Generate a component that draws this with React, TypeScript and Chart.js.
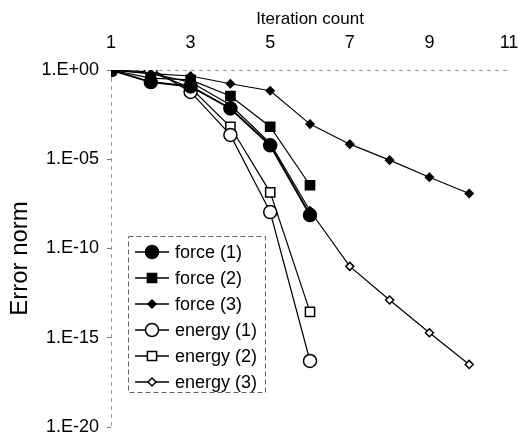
import { useEffect, useRef } from 'react';
import { Chart, registerables } from 'chart.js';

Chart.register(...registerables);

// ---- data ----
const iterShort = [1, 2, 3, 4, 5, 6];
const iterLong = [1, 2, 3, 4, 5, 6, 7, 8, 9, 10];
const force1 = [1, 2.1e-1, 1.2e-1, 7.0e-3, 6.0e-5, 7.5e-9];
const force2 = [1, 3.5e-1, 2.8e-1, 3.5e-2, 6.6e-4, 3.5e-7];
const force3 = [1, 6.3e-1, 4.6e-1, 1.7e-1, 6.9e-2, 9.3e-4, 7.0e-5, 8.9e-6, 9.8e-7, 1.2e-7];
const energy1 = [1, 1.2, 5.9e-2, 2.3e-4, 1.1e-8, 5.0e-17];
const energy2 = [1, 7.9e-1, 1.0e-1, 6.6e-4, 1.4e-7, 2.8e-14];
const energy3 = [1, 6.3e-1, 2.1e-1, 1.1e-2, 7.9e-5, 1.3e-8, 1.0e-11, 1.3e-13, 1.9e-15, 3.2e-17];
const seriesLabels = ['force (1)', 'force (2)', 'force (3)', 'energy (1)', 'energy (2)', 'energy (3)'];
const xTickValues = [1, 3, 5, 7, 9, 11];
const yTickValues = [1, 1e-5, 1e-10, 1e-15, 1e-20];
const xTitle = 'Iteration count';
const yTitle = 'Error norm';

const FONT = '"Liberation Sans", Arial, sans-serif';

function pts(xs: number[], ys: number[]) {
  return ys.map((y, i) => ({ x: xs[i], y }));
}

function fmtExp(v: number) {
  const e = Math.round(Math.log10(v));
  const s = e >= 0 ? '+' : '-';
  const a = Math.abs(e);
  return '1.E' + s + (a < 10 ? '0' + a : String(a));
}

function drawMarker(ctx: CanvasRenderingContext2D, style: string, x: number, y: number, r: number, fill: string) {
  ctx.beginPath();
  if (style === 'circle') {
    ctx.arc(x, y, r, 0, Math.PI * 2);
  } else if (style === 'rect') {
    const s = Math.SQRT1_2 * r;
    ctx.rect(x - s, y - s, 2 * s, 2 * s);
  } else {
    ctx.moveTo(x, y - r);
    ctx.lineTo(x + r, y);
    ctx.lineTo(x, y + r);
    ctx.lineTo(x - r, y);
    ctx.closePath();
  }
  ctx.fillStyle = fill;
  ctx.fill();
  ctx.lineWidth = 1.5;
  ctx.strokeStyle = '#000';
  ctx.stroke();
}

const axesAndTitle = {
  id: 'axesAndTitle',
  beforeDatasetsDraw(chart: any) {
    const ctx: CanvasRenderingContext2D = chart.ctx;
    const a = chart.chartArea;
    ctx.save();
    ctx.strokeStyle = '#9a9a9a';
    ctx.lineWidth = 1;
    ctx.setLineDash([4, 4]);
    ctx.beginPath();
    ctx.moveTo(a.left, a.top + 0.5);
    ctx.lineTo(a.right, a.top + 0.5);
    ctx.moveTo(a.left + 0.5, a.top);
    ctx.lineTo(a.left + 0.5, a.bottom);
    ctx.stroke();
    ctx.setLineDash([]);
    // y-axis title
    ctx.translate(20, (a.top + a.bottom) / 2 + 10);
    ctx.rotate(-Math.PI / 2);
    ctx.fillStyle = '#000';
    ctx.font = '24px ' + FONT;
    ctx.textAlign = 'center';
    ctx.textBaseline = 'middle';
    ctx.fillText(yTitle, 0, 0);
    ctx.restore();
  },
};

const boxLegend = {
  id: 'boxLegend',
  afterDraw(chart: any) {
    const ctx: CanvasRenderingContext2D = chart.ctx;
    ctx.save();
    ctx.fillStyle = '#fff';
    ctx.fillRect(128.5, 236.5, 137, 156);
    ctx.setLineDash([5, 3]);
    ctx.strokeStyle = '#666';
    ctx.lineWidth = 1;
    ctx.strokeRect(128.5, 236.5, 137, 156);
    ctx.setLineDash([]);
    chart.data.datasets.forEach((ds: any, i: number) => {
      const y = 252 + i * 26;
      ctx.strokeStyle = '#000';
      ctx.lineWidth = 1.5;
      ctx.beginPath();
      ctx.moveTo(135, y);
      ctx.lineTo(169, y);
      ctx.stroke();
      drawMarker(ctx, ds.pointStyle, 152, y, ds.pointRadius, ds.pointBackgroundColor);
      ctx.fillStyle = '#000';
      ctx.font = '18px ' + FONT;
      ctx.textBaseline = 'middle';
      ctx.textAlign = 'left';
      ctx.fillText(ds.label, 175, y + 1);
    });
    ctx.restore();
  },
};

export default function App() {
  const ref = useRef<HTMLCanvasElement>(null);

  useEffect(() => {
    document.body.style.margin = '0';
    const canvas = ref.current;
    if (!canvas) return;
    const mk = (label: string, xs: number[], ys: number[], style: string, r: number, filled: boolean, bw: number) => ({
      label,
      data: pts(xs, ys),
      borderColor: '#000',
      borderWidth: bw,
      pointStyle: style,
      pointRadius: r,
      pointHoverRadius: r,
      pointBackgroundColor: filled ? '#000' : '#fff',
      pointBorderColor: '#000',
      pointBorderWidth: 1.5,
      fill: false,
      tension: 0,
    });
    const chart = new Chart(canvas, {
      type: 'line',
      data: {
        datasets: [
          mk(seriesLabels[0], iterShort, force1, 'circle', 6.5, true, 2),
          mk(seriesLabels[1], iterShort, force2, 'rect', 6.5, true, 1.2),
          mk(seriesLabels[2], iterLong, force3, 'rectRot', 4, true, 1.2),
          mk(seriesLabels[3], iterShort, energy1, 'circle', 6.5, false, 1.2),
          mk(seriesLabels[4], iterShort, energy2, 'rect', 6.5, false, 1.2),
          mk(seriesLabels[5], iterLong, energy3, 'rectRot', 4, false, 1.2),
        ] as any,
      },
      options: {
        animation: false,
        responsive: false,
        layout: { padding: { left: 0, top: 0, right: 11, bottom: 14 } },
        plugins: { legend: { display: false }, tooltip: { enabled: false } },
        scales: {
          x: {
            type: 'linear',
            position: 'top',
            min: 1,
            max: 11,
            afterBuildTicks: (s: any) => {
              s.ticks = xTickValues.map((v) => ({ value: v }));
            },
            afterFit: (s: any) => {
              s.height = 70;
              s.paddingLeft = 0;
              s.paddingRight = 0;
            },
            grid: { display: false, drawOnChartArea: false, drawTicks: false },
            border: { display: false },
            ticks: { font: { size: 18, family: FONT }, color: '#000', padding: 16, maxRotation: 0 },
            title: {
              display: true,
              text: xTitle,
              font: { size: 17, family: FONT },
              color: '#000',
              padding: { top: 9, bottom: 0 },
            },
          },
          y: {
            type: 'logarithmic',
            min: 1e-20,
            max: 1,
            afterBuildTicks: (s: any) => {
              s.ticks = yTickValues.map((v) => ({ value: v }));
            },
            afterFit: (s: any) => {
              s.width = 111;
              s.paddingTop = 0;
              s.paddingBottom = 0;
            },
            grid: { display: true, drawOnChartArea: false, drawTicks: true, tickLength: 4, color: '#777' },
            border: { display: false },
            ticks: {
              font: { size: 18, family: FONT },
              color: '#000',
              padding: 8,
              callback: (v: any) => fmtExp(Number(v)),
            },
            title: { display: false },
          },
        },
      } as any,
      plugins: [axesAndTitle, boxLegend],
    });
    return () => chart.destroy();
  }, []);

  return <canvas ref={ref} width={520} height={441} style={{ display: 'block' }} />;
}
